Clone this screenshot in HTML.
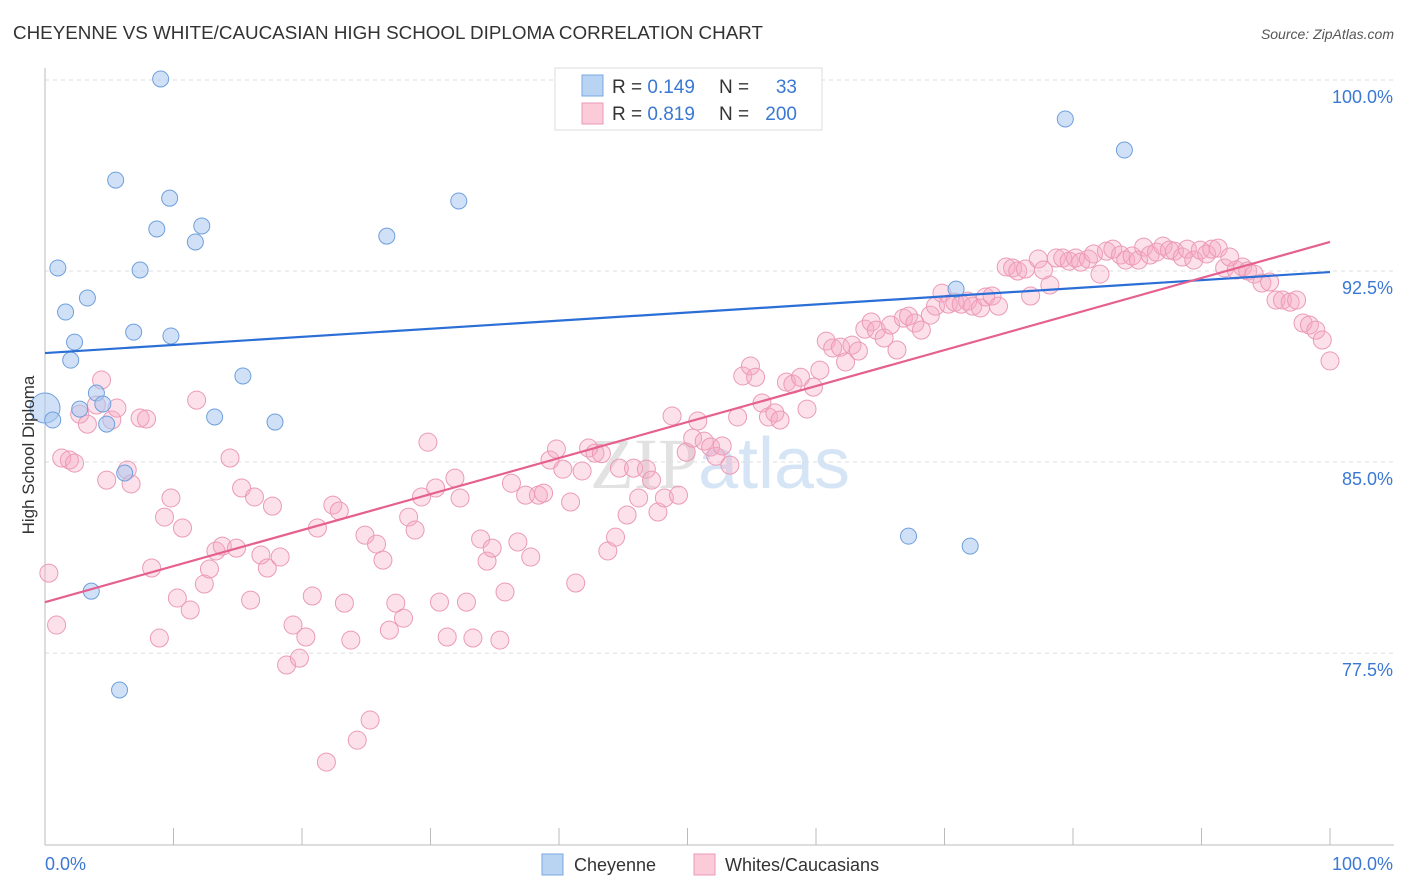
<!DOCTYPE html>
<html><head><meta charset="utf-8"><style>
body{margin:0;background:#fff;font-family:"Liberation Sans",sans-serif;}
svg{display:block}
</style></head><body>
<svg id="chart" width="1406" height="892" xmlns="http://www.w3.org/2000/svg">
<text x="13" y="39" font-size="18" fill="#333" textLength="750" lengthAdjust="spacingAndGlyphs" font-family="Liberation Sans, sans-serif">CHEYENNE VS WHITE/CAUCASIAN HIGH SCHOOL DIPLOMA CORRELATION CHART</text>
<text x="1394" y="39" font-size="14" fill="#555" font-style="italic" text-anchor="end">Source: ZipAtlas.com</text>
<text x="720" y="488" font-size="72" fill="#d8e3f0" text-anchor="middle"><tspan fill="#e2e2e2" font-family="Liberation Serif, serif">ZIP</tspan><tspan fill="#d6e5f5">atlas</tspan></text>
<g id="grid"></g>
<g id="axes"></g>
<g id="pts"></g>
<g id="lines"></g>
<text transform="translate(34,455) rotate(-90)" font-size="17" fill="#333" text-anchor="middle">High School Diploma</text>
<g>
<rect x="555" y="68" width="267" height="62" fill="#fff" stroke="#ddd"/>
<rect x="582" y="75" width="21" height="21" fill="#b9d3f3" stroke="#7aa7e0"/>
<rect x="582" y="103" width="21" height="21" fill="#fbcbd9" stroke="#ea9ab6"/>
<text x="612" y="93" font-size="19" fill="#333">R = <tspan fill="#3a78d4">0.149</tspan></text>
<text x="719" y="93" font-size="19" fill="#333">N =</text>
<text x="797" y="93" font-size="19" fill="#3a78d4" text-anchor="end">33</text>
<text x="612" y="120" font-size="19" fill="#333">R = <tspan fill="#3a78d4">0.819</tspan></text>
<text x="719" y="120" font-size="19" fill="#333">N =</text>
<text x="797" y="120" font-size="19" fill="#3a78d4" text-anchor="end">200</text>
</g>
<g>
<rect x="542" y="854" width="21" height="21" fill="#b9d3f3" stroke="#7aa7e0"/>
<text x="574" y="871" font-size="18" fill="#333">Cheyenne</text></g>
<g>
<rect x="694" y="854" width="21" height="21" fill="#fbcbd9" stroke="#ea9ab6"/>
<text x="725" y="871" font-size="18" fill="#333">Whites/Caucasians</text></g>
</svg>
<script>
const yTicks=[100,92.5,85,77.5];
const yTickLabels=["100.0%","92.5%","85.0%","77.5%"];
const xTickLabels=["0.0%","100.0%"];
const blueX=[9.0,0,0.6,1.0,1.6,2.0,2.3,2.7,3.3,4.0,4.5,4.8,5.5,6.2,6.9,7.4,9.7,9.8,8.7,11.7,12.2,13.2,15.4,17.9,26.6,32.2,3.6,5.8,67.2,70.9,72.0,79.4,84.0];
const blueY=[100.04,87.12,86.65,92.62,90.89,89.00,89.71,87.08,91.44,87.71,87.28,86.49,96.07,84.57,90.10,92.54,95.36,89.95,94.15,93.64,94.27,86.77,88.38,86.57,93.87,95.25,79.93,76.05,82.09,91.79,81.70,98.47,97.25];
const pinkX=[0.3,0.9,1.3,1.9,2.3,2.7,3.3,4.0,4.4,4.8,5.2,5.6,6.4,6.7,7.4,7.9,8.3,8.9,9.3,9.8,10.3,10.7,11.3,11.8,12.4,12.8,13.3,13.8,14.4,14.9,15.3,16.0,16.3,16.8,17.3,17.7,18.3,18.8,19.3,19.8,20.3,20.8,21.2,21.9,22.4,22.9,23.3,23.8,24.3,24.9,25.3,25.8,26.3,26.8,27.3,27.9,28.3,28.8,29.3,29.8,30.4,30.7,31.3,31.9,32.3,32.8,33.3,33.9,34.4,34.8,35.4,35.8,36.3,36.8,37.4,37.8,38.4,38.8,39.3,39.8,40.3,40.9,41.3,41.8,42.3,42.8,43.3,43.8,44.4,44.7,45.3,45.8,46.2,46.8,47.2,47.7,48.2,48.8,49.3,49.9,50.4,50.8,51.3,51.8,52.2,52.7,53.3,53.9,54.3,54.9,55.3,55.8,56.3,56.8,57.2,57.7,58.2,58.8,59.3,59.8,60.3,60.8,61.3,61.9,62.3,62.8,63.3,63.8,64.3,64.7,65.3,65.8,66.3,66.8,67.2,67.7,68.2,68.9,69.3,69.8,70.3,70.8,71.3,71.8,72.2,72.8,73.2,73.7,74.2,74.8,75.3,75.7,76.3,76.7,77.3,77.7,78.2,78.7,79.2,79.7,80.2,80.6,81.2,81.6,82.1,82.6,83.1,83.7,84.1,84.6,85.1,85.5,86.0,86.5,87.0,87.5,87.9,88.5,88.9,89.4,89.9,90.4,90.8,91.3,91.8,92.2,92.7,93.2,93.6,94.1,94.7,95.3,95.8,96.3,96.9,97.4,97.9,98.4,98.9,99.4,100];
const pinkY=[80.64,78.60,85.16,85.08,84.96,86.88,86.49,87.24,88.22,84.29,86.65,87.12,84.69,84.14,86.73,86.69,80.84,78.09,82.84,83.59,79.66,82.41,79.19,87.43,80.21,80.80,81.51,81.70,85.16,81.62,83.98,79.58,83.63,81.35,80.84,83.27,81.27,77.03,78.60,77.30,78.13,79.74,82.41,73.22,83.31,83.08,79.46,78.01,74.08,82.13,74.87,81.78,81.15,78.40,79.46,78.87,82.84,82.33,83.63,85.78,83.98,79.50,78.13,84.37,83.59,79.50,78.09,81.98,81.11,81.62,78.01,79.90,84.17,81.86,83.70,81.27,83.70,83.78,85.08,85.51,84.72,83.43,80.25,84.65,85.55,85.35,85.33,81.51,82.05,84.76,82.92,84.76,83.59,84.72,84.29,83.04,83.59,86.81,83.70,85.39,85.94,86.61,85.82,85.59,85.23,85.63,84.88,86.77,88.38,88.77,88.33,87.32,86.77,86.93,86.65,88.14,88.06,88.33,87.08,87.94,88.61,89.75,89.48,89.51,88.93,89.59,89.36,90.22,90.50,90.18,89.87,90.38,89.40,90.65,90.73,90.46,90.18,90.77,91.12,91.63,91.20,91.28,91.20,91.32,91.12,91.05,91.48,91.52,91.12,92.66,92.62,92.50,92.58,91.52,92.97,92.54,91.95,93.01,93.01,92.89,93.01,92.85,92.97,93.17,92.38,93.28,93.36,93.13,92.93,93.09,92.93,93.44,93.13,93.24,93.48,93.32,93.28,93.05,93.36,92.93,93.32,93.17,93.36,93.40,92.62,93.05,92.54,92.66,92.50,92.38,92.03,92.07,91.36,91.36,91.28,91.36,90.46,90.38,90.18,89.79,88.97];
const lineX=[0,100];
const blueLineY=[89.28,92.46];
const pinkLineY=[79.50,93.64];
const NS="http://www.w3.org/2000/svg";
const X=v=>45+v*12.85;
const Y=v=>80+(100-v)*25.47;
function mk(tag,attrs,parent){const e=document.createElementNS(NS,tag);for(const k in attrs)e.setAttribute(k,attrs[k]);parent.appendChild(e);return e;}
const grid=document.getElementById('grid'),axes=document.getElementById('axes');
yTicks.forEach((t,i)=>{
 const l=mk('line',{x1:45,x2:1394,y1:Y(t),y2:Y(t),stroke:'#ddd','stroke-dasharray':'4,4'},grid);
 
 
 const tx=mk('text',{x:1393,y:Y(t)+23,'font-size':18,fill:'#3a78d4','text-anchor':'end'},axes);
 tx.textContent=yTickLabels[i];
 
 
});
const ax=mk('line',{x1:45,x2:1394,y1:845,y2:845,stroke:'#bbb'},axes);


const ay=mk('line',{x1:45,x2:45,y1:68,y2:845,stroke:'#bbb'},axes);


for(let i=1;i<=10;i++){const t=mk('line',{x1:X(i*10),x2:X(i*10),y1:828,y2:845,stroke:'#bbb'},axes);
 
 }
const xl0=mk('text',{x:45,y:870,'font-size':18,fill:'#3a78d4'},axes);xl0.textContent=xTickLabels[0];


const xl1=mk('text',{x:1393,y:870,'font-size':18,fill:'#3a78d4','text-anchor':'end'},axes);xl1.textContent=xTickLabels[1];


const pts=document.getElementById('pts');
pinkX.forEach((x,i)=>{const c=mk('circle',{cx:X(x),cy:Y(pinkY[i]),r:9,fill:'rgba(246,168,194,0.35)',stroke:'#eb9ab6','stroke-width':1},pts);
 
 });
blueX.forEach((x,i)=>{const c=mk('circle',{cx:X(x),cy:Y(blueY[i]),r:i==1?15:8,fill:'rgba(170,200,240,0.55)',stroke:'#6f9fdc','stroke-width':1},pts);
 
 });
const lines=document.getElementById('lines');
const bl=mk('line',{x1:X(lineX[0]),x2:X(lineX[1]),y1:Y(blueLineY[0]),y2:Y(blueLineY[1]),stroke:'#2b6fd6','stroke-width':2.2},lines);


const pl=mk('line',{x1:X(lineX[0]),x2:X(lineX[1]),y1:Y(pinkLineY[0]),y2:Y(pinkLineY[1]),stroke:'#e5608f','stroke-width':2.2},lines);


</script>
</body></html>
